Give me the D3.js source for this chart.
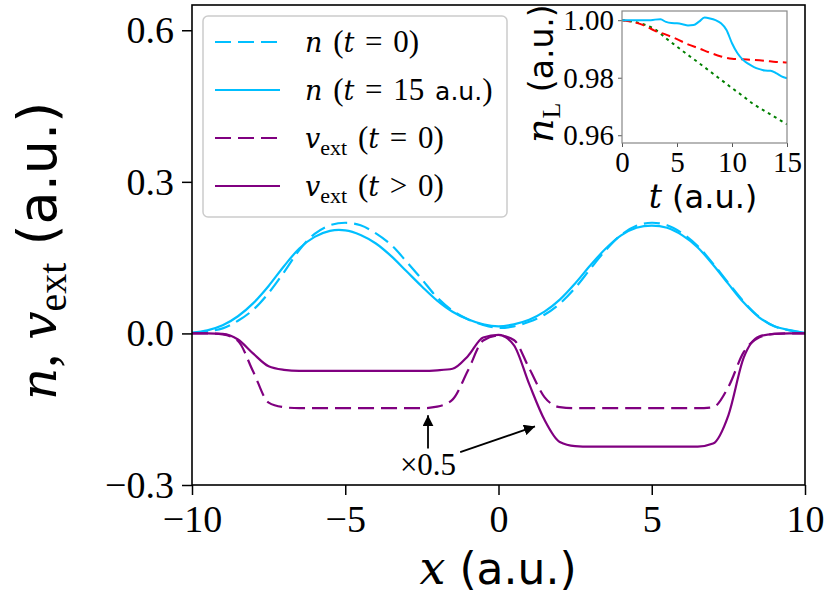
<!DOCTYPE html>
<html>
<head>
<meta charset="utf-8">
<script src="https://cdn.jsdelivr.net/npm/d3@7"></script>
<style>
  body { margin: 0; background: #fff; }
</style>
</head>
<body>
<svg id="chart" width="830" height="611"></svg>
<script>
// main panel: density and external potential along x
var xs = [-10, -9.5, -9, -8.5, -8, -7.5, -7, -6.5, -6, -5.5, -5, -4.5, -4, -3.5, -3, -2.5, -2, -1.5, -1, -0.5,
          0, 0.5, 1, 1.5, 2, 2.5, 3, 3.5, 4, 4.5, 5, 5.5, 6, 6.5, 7, 7.5, 8, 8.5, 9, 9.5, 10];
var nT0 = [0.001, 0.004, 0.010, 0.025, 0.047, 0.080, 0.121, 0.165, 0.197, 0.214, 0.219, 0.214, 0.198, 0.175, 0.142, 0.107, 0.071, 0.045, 0.028, 0.017,
           0.011, 0.014, 0.023, 0.037, 0.059, 0.090, 0.128, 0.165, 0.195, 0.213, 0.219, 0.214, 0.198, 0.173, 0.138, 0.100, 0.063, 0.033, 0.014, 0.006, 0.001];
var nT15 = [0.001, 0.006, 0.016, 0.034, 0.060, 0.094, 0.133, 0.168, 0.191, 0.203, 0.204, 0.195, 0.178, 0.153, 0.123, 0.093, 0.065, 0.043, 0.028, 0.018,
            0.014, 0.018, 0.027, 0.043, 0.067, 0.099, 0.135, 0.168, 0.194, 0.209, 0.2135, 0.209, 0.194, 0.170, 0.136, 0.098, 0.061, 0.032, 0.014, 0.0065, 0.001];
var vT0 = [0, 0, -0.002, -0.015, -0.076, -0.137, -0.146, -0.148, -0.148, -0.148, -0.148, -0.148, -0.148, -0.148, -0.148, -0.148, -0.145, -0.131, -0.074, -0.014,
           -0.004, -0.013, -0.069, -0.126, -0.146, -0.148, -0.148, -0.148, -0.148, -0.148, -0.148, -0.148, -0.148, -0.148, -0.146, -0.106, -0.037, -0.008, -0.001, 0, 0];
var vT = [0, 0, -0.001, -0.012, -0.040, -0.065, -0.072, -0.074, -0.074, -0.074, -0.074, -0.074, -0.074, -0.074, -0.074, -0.074, -0.073, -0.070, -0.045, -0.008,
          -0.003, -0.023, -0.100, -0.171, -0.215, -0.223, -0.224, -0.224, -0.224, -0.224, -0.224, -0.224, -0.224, -0.224, -0.218, -0.162, -0.048, -0.006, -0.001, 0, 0];
var xTicks = [-10, -5, 0, 5, 10];
var yTicks = [-0.3, 0, 0.3, 0.6];

// inset: n_L(t)
var tBlue = [0, 0.5, 1, 1.5, 2, 2.5, 3, 3.5, 4, 4.5, 5, 5.5, 6, 6.5, 7, 7.5, 8, 8.5, 9, 9.5, 10, 10.5, 11, 11.5, 12, 12.5, 13, 13.5, 14, 14.5, 15];
var nLBlue = [1.0000, 1.0000, 1.0000, 1.0000, 1.0000, 1.0000, 1.0002, 1.0003, 0.9994, 0.9990, 0.9989, 0.9986, 0.9982, 0.9983, 0.9995, 1.0009,
              1.0006, 1.0000, 0.9989, 0.9966, 0.9920, 0.9885, 0.9862, 0.9848, 0.9837, 0.9830, 0.9825, 0.9824, 0.9816, 0.9805, 0.9798];
var tInt = [0, 1, 2, 3, 4, 5, 6, 7, 8, 9, 10, 11, 12, 13, 14, 15];
var nLRed = [1.0000, 0.9994, 0.9982, 0.9963, 0.9950, 0.9934, 0.9916, 0.9902, 0.9887, 0.9874, 0.9866, 0.9864, 0.9862, 0.9859, 0.9855, 0.9853];
var nLGreen = [1.0000, 0.9995, 0.9985, 0.9968, 0.9937, 0.9908, 0.9879, 0.9851, 0.9822, 0.9793, 0.9764, 0.9736, 0.9707, 0.9684, 0.9661, 0.9638];
var tTicks = [0, 5, 10, 15];
var nLTicks = [0.96, 0.98, 1.00];

var blue = '#00bfff', purple = '#800080';
var SERIF = "'Liberation Serif', serif";
var ITAL = "'DejaVu Serif', serif";   // has a real italic face
var SANS = "'DejaVu Sans', sans-serif";
var svg = d3.select('#chart');

var x = d3.scaleLinear().domain([-10, 10]).range([192, 805]);
var y = d3.scaleLinear().domain([-0.3, 0.65]).range([485, 5]);

var defs = svg.append('defs');
defs.append('clipPath').attr('id', 'clipMain')
    .append('rect').attr('x', 192).attr('y', 5).attr('width', 613).attr('height', 480);

var lineN = d3.line()
    .x(function (d) { return x(d[0]); })
    .y(function (d) { return y(d[1]); })
    .curve(d3.curveCatmullRom.alpha(0.5));
var lineV = d3.line()
    .x(function (d) { return x(d[0]); })
    .y(function (d) { return y(d[1]); })
    .curve(d3.curveMonotoneX);

var plot = svg.append('g').attr('clip-path', 'url(#clipMain)');
var series = [
    {v: nT0, c: blue, dash: '16,7', gen: lineN},
    {v: nT15, c: blue, dash: null, gen: lineN},
    {v: vT0, c: purple, dash: '16,7', gen: lineV},
    {v: vT, c: purple, dash: null, gen: lineV}
];
series.forEach(function (s) {
    plot.append('path')
        .attr('d', s.gen(xs.map(function (xv, i) { return [xv, s.v[i]]; })))
        .attr('fill', 'none')
        .attr('stroke', s.c)
        .attr('stroke-width', 2.2)
        .attr('stroke-dasharray', s.dash);
});

// axes
var gy = svg.append('g').attr('transform', 'translate(192,0)')
    .call(d3.axisLeft(y).tickValues(yTicks).tickSize(10).tickPadding(8).tickFormat(d3.format('.1f')));
var gx = svg.append('g').attr('transform', 'translate(0,485)')
    .call(d3.axisBottom(x).tickValues(xTicks).tickSize(10).tickPadding(10).tickFormat(d3.format('d')));
[gy, gx].forEach(function (g) {
    g.attr('font-family', SERIF).attr('font-size', 38);
    g.select('.domain').remove();
    g.selectAll('line').attr('stroke', '#000').attr('stroke-width', 1.5);
    g.selectAll('text').attr('fill', '#000');
});

svg.append('rect').attr('x', 192).attr('y', 5).attr('width', 613).attr('height', 480)
    .attr('fill', 'none').attr('stroke', '#000').attr('stroke-width', 1.6);

// axis labels
var xl = svg.append('text').attr('x', 498).attr('y', 584).attr('text-anchor', 'middle').attr('font-size', 44);
xl.append('tspan').attr('font-family', ITAL).attr('font-style', 'italic').attr('font-size', 46).text('x');
xl.append('tspan').attr('font-family', SANS).text(' (a.u.)');

var yl = svg.append('text').attr('transform', 'translate(56,400) rotate(-90)').attr('text-anchor', 'start').attr('font-size', 54);
yl.append('tspan').attr('font-family', ITAL).attr('font-style', 'italic').attr('font-size', 50).text('n');
yl.append('tspan').attr('font-family', SERIF).attr('font-size', 56).text(', ');
yl.append('tspan').attr('font-family', ITAL).attr('font-style', 'italic').attr('font-size', 50).text('v');
yl.append('tspan').attr('font-family', SERIF).attr('font-size', 40).attr('dy', 10).text('ext');
yl.append('tspan').attr('font-family', SANS).attr('dy', -10).text(' (a.u.)');

// annotation arrows
defs.append('marker').attr('id', 'head').attr('viewBox', '0 0 10 10').attr('refX', 10).attr('refY', 5)
    .attr('markerWidth', 11).attr('markerHeight', 11).attr('markerUnits', 'userSpaceOnUse').attr('orient', 'auto')
    .append('path').attr('d', 'M0,0L10,5L0,10z').attr('fill', '#000');
var arrows = [
    {from: [-2.3, -0.228], to: [-2.3, -0.162]},
    {from: [-1.25, -0.235], to: [1.19, -0.184]}
];
arrows.forEach(function (a) {
    svg.append('line')
        .attr('x1', x(a.from[0])).attr('y1', y(a.from[1]))
        .attr('x2', x(a.to[0])).attr('y2', y(a.to[1]))
        .attr('stroke', '#000').attr('stroke-width', 1.8).attr('marker-end', 'url(#head)');
});
svg.append('text').attr('x', x(-2.3)).attr('y', y(-0.28))
    .attr('text-anchor', 'middle').attr('font-family', SERIF).attr('font-size', 31).text('×0.5');

// legend
svg.append('rect').attr('x', 203).attr('y', 16).attr('width', 304).attr('height', 201).attr('rx', 5)
    .attr('fill', '#fff').attr('fill-opacity', 0.8).attr('stroke', '#cccccc').attr('stroke-width', 1.5);
var legendRows = [
    {c: blue, dash: '16,7', parts: [['n', 'i'], [' (', 'r'], ['t', 'i'], [' = 0)', 'r']]},
    {c: blue, dash: null, parts: [['n', 'i'], [' (', 'r'], ['t', 'i'], [' = 15 ', 'r'], ['a.u.', 's'], [')', 'r']]},
    {c: purple, dash: '16,7', parts: [['v', 'i'], ['ext', 'sub'], [' (', 'r'], ['t', 'i'], [' = 0)', 'r']]},
    {c: purple, dash: null, parts: [['v', 'i'], ['ext', 'sub'], [' (', 'r'], ['t', 'i'], [' > 0)', 'r']]}
];
legendRows.forEach(function (r, i) {
    var cy = 42 + i * 48;
    svg.append('line').attr('x1', 215).attr('x2', 280).attr('y1', cy).attr('y2', cy)
        .attr('stroke', r.c).attr('stroke-width', 2.2).attr('stroke-dasharray', r.dash);
    var t = svg.append('text').attr('x', 305).attr('y', cy + 10).attr('xml:space', 'preserve')
        .attr('font-size', 31).attr('font-family', SERIF).attr('word-spacing', 3);
    var shifted = false;
    r.parts.forEach(function (p) {
        var ts = t.append('tspan').text(p[0]);
        if (p[1] === 's') ts.attr('font-family', SANS).attr('font-size', 25);
        if (p[1] === 'i') ts.attr('font-family', ITAL).attr('font-style', 'italic').attr('font-size', 27);
        if (p[1] === 'sub') { ts.attr('font-size', 22).attr('dy', 7); shifted = true; }
        else if (shifted) { ts.attr('dy', -7); shifted = false; }
    });
});

// inset
var xi = d3.scaleLinear().domain([0, 15]).range([622, 787]);
var yi = d3.scaleLinear().domain([0.9573, 1.0032]).range([143, 11]);
svg.append('rect').attr('x', 622).attr('y', 11).attr('width', 165).attr('height', 132).attr('fill', '#fff');
defs.append('clipPath').attr('id', 'clipInset')
    .append('rect').attr('x', 622).attr('y', 11).attr('width', 165).attr('height', 132);
var lineI = d3.line()
    .x(function (d) { return xi(d[0]); })
    .y(function (d) { return yi(d[1]); })
    .curve(d3.curveMonotoneX);
var inset = svg.append('g').attr('clip-path', 'url(#clipInset)');
var insetSeries = [
    {t: tInt, v: nLGreen, c: 'green', dash: '3,4'},
    {t: tInt, v: nLRed, c: 'red', dash: '9,5'},
    {t: tBlue, v: nLBlue, c: blue, dash: null}
];
insetSeries.forEach(function (s) {
    inset.append('path')
        .attr('d', lineI(s.t.map(function (tv, i) { return [tv, s.v[i]]; })))
        .attr('fill', 'none').attr('stroke', s.c).attr('stroke-width', 2)
        .attr('stroke-dasharray', s.dash);
});
var giy = svg.append('g').attr('transform', 'translate(622,0)')
    .call(d3.axisLeft(yi).tickValues(nLTicks).tickSize(4).tickPadding(4).tickFormat(d3.format('.2f')));
var gix = svg.append('g').attr('transform', 'translate(0,143)')
    .call(d3.axisBottom(xi).tickValues(tTicks).tickSize(4).tickPadding(4).tickFormat(d3.format('d')));
[giy, gix].forEach(function (g) {
    g.attr('font-family', SERIF).attr('font-size', 29);
    g.select('.domain').remove();
    g.selectAll('line').attr('stroke', '#555').attr('stroke-width', 1);
    g.selectAll('text').attr('fill', '#000');
});
svg.append('rect').attr('x', 622).attr('y', 11).attr('width', 165).attr('height', 132)
    .attr('fill', 'none').attr('stroke', '#888').attr('stroke-width', 1.2);

var til = svg.append('text').attr('x', 703).attr('y', 208).attr('text-anchor', 'middle').attr('font-size', 32);
til.append('tspan').attr('font-family', ITAL).attr('font-style', 'italic').attr('font-size', 33).text('t');
til.append('tspan').attr('font-family', SANS).text(' (a.u.)');

var yil = svg.append('text').attr('transform', 'translate(553,143) rotate(-90)').attr('text-anchor', 'start').attr('font-size', 33);
yil.append('tspan').attr('font-family', ITAL).attr('font-style', 'italic').attr('font-size', 38).text('n');
yil.append('tspan').attr('font-family', SERIF).attr('font-size', 26).attr('dy', 7).text('L');
yil.append('tspan').attr('font-family', SANS).attr('dy', -7).text(' (a.u.)');
</script>
</body>
</html>
